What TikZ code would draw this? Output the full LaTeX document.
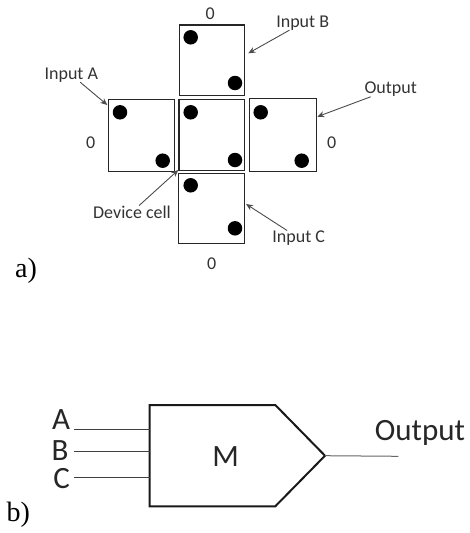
\documentclass[tikz,border=0pt]{standalone}
\usepackage{fontspec}
\usetikzlibrary{arrows.meta}
\setmainfont{Carlito}
\newfontfamily\serifpart{Liberation Serif}
\begin{document}
\begin{tikzpicture}[x=1pt,y=-1pt,
  cell/.style={draw=black!85,line width=1.5pt,inner sep=0pt},
  dot/.style={circle,fill=black,inner sep=0pt,minimum size=14.5pt},
  lab/.style={text=black!80,font=\fontsize{18}{20}\selectfont,inner sep=0pt},
  arr/.style={draw=black!70,line width=0.9pt,-{Stealth[length=7pt,width=6pt]}},
  wire/.style={draw=black!75,line width=1pt},
  sub/.style={font=\serifpart\fontsize{28}{30}\selectfont,inner sep=0pt},
  big/.style={text=black!85,font=\fontsize{31}{33}\selectfont,inner sep=0pt}]
\useasboundingbox (0,0) rectangle (469,533);
% cells
\node[cell,minimum width=65pt,minimum height=70.3pt] (top) at (212.2,60.2) {};
\node[cell,minimum width=66.4pt,minimum height=72pt] (left) at (141.5,135.3) {};
\node[cell,minimum width=65.3pt,minimum height=71pt] (mid) at (211.7,134.8) {};
\node[cell,minimum width=66.6pt,minimum height=73pt] (right) at (283,135.2) {};
\node[cell,minimum width=66pt,minimum height=69.6pt] (bot) at (211.7,208.5) {};
% dots
\node[dot] (t1) at (190.7,37.3) {};
\node[dot] (t2) at (235,83) {};
\node[dot] (l1) at (120,112.3) {};
\node[dot] (l2) at (162.7,160.7) {};
\node[dot] (m1) at (190.7,112.3) {};
\node[dot] (m2) at (235,160) {};
\node[dot] (r1) at (260.7,112.3) {};
\node[dot] (r2) at (301.7,160.7) {};
\node[dot] (b1) at (190.7,185.3) {};
\node[dot] (b2) at (235,228.3) {};
% labels
\node[lab] (z1) at (210.3,14) {0};
\node[lab] (z2) at (90.7,142.3) {0};
\node[lab] (z3) at (331.7,142.3) {0};
\node[lab] (z4) at (211.7,263.3) {0};
\node[lab] (inB) at (302.7,22.7) {Input B};
\node[lab] (inA) at (71.3,74.7) {Input A};
\node[lab] (outL) at (390.7,89.3) {Output};
\node[lab] (dev) at (132,212) {Device cell};
\node[lab] (inC) at (298.7,238) {Input C};
\node[sub] (pa) at (26,271) {a)};
% arrow targets
\coordinate (tB) at (248.3,53.3);
\coordinate (tA) at (107.3,105);
\coordinate (tO) at (317.3,116.7);
\coordinate (tD) at (178.3,170);
\coordinate (tC) at (246,204);
\draw[arr] (inB) -- (tB);
\draw[arr] (inA) -- (tA);
\draw[arr] (outL) -- (tO);
\draw[arr] (dev) -- (tD);
\draw[arr] (inC) -- (tC);
% part b
\coordinate (p1) at (149.7,405);
\coordinate (p2) at (275.3,405);
\coordinate (p3) at (325,455.7);
\coordinate (p4) at (275.3,506.3);
\coordinate (p5) at (149.7,506.3);
\draw[black!90,line width=2pt,line join=miter] (p1) -- (p2) -- (p3) -- (p4) -- (p5) -- cycle;
\node[big] (M) at (225.7,456.7) {M};
\node[big] (A) at (61,419.3) {A};
\node[big] (B) at (60,450.3) {B};
\node[big] (C) at (61.7,478.3) {C};
\node[big] (O) at (420,433.3) {Output};
\node[sub] (pb) at (18.3,515) {b)};
\coordinate (a0) at (73.7,429.3);
\coordinate (a1) at (149.7,429.3);
\coordinate (b0) at (73.7,451.7);
\coordinate (b1x) at (149.7,451.7);
\coordinate (c0) at (73.7,477);
\coordinate (c1) at (149.7,477);
\coordinate (o1) at (398.3,456.3);
\draw[wire] (a0) -- (a1);
\draw[wire] (b0) -- (b1x);
\draw[wire] (c0) -- (c1);
\draw[wire,draw=black!60] (p3) -- (o1);
\end{tikzpicture}
\end{document}
